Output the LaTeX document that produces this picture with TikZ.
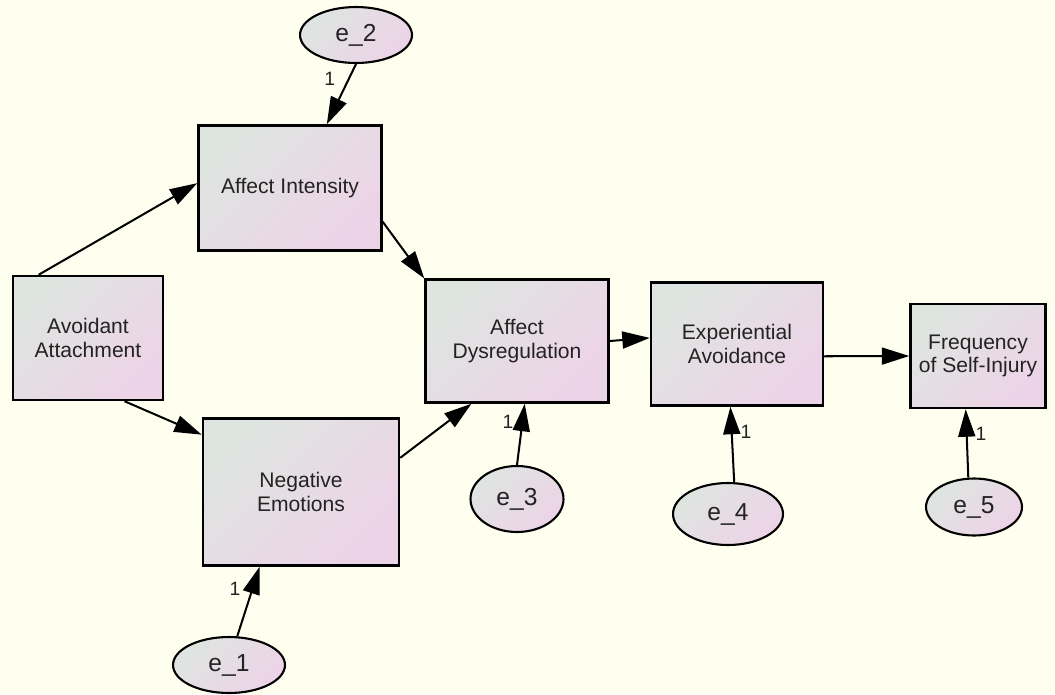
\documentclass[tikz,border=0pt]{standalone}
\usepackage{fontspec}
\setmainfont{Liberation Sans}
\usetikzlibrary{shapes.geometric,arrows.meta}
\definecolor{bgivory}{RGB}{255,255,240}
\definecolor{boxgrey}{RGB}{222,229,224}
\definecolor{boxpink}{RGB}{237,211,232}
\definecolor{txtgrey}{RGB}{35,35,35}
\begin{document}
\begin{tikzpicture}[x=0.02cm,y=-0.02cm,
    obs/.style={draw,rectangle,line width=1.4pt,inner sep=0pt,align=center,left color=boxgrey,right color=boxpink,shading angle=45,text=txtgrey,font=\fontsize{12}{13.5}\selectfont},
    err/.style={draw,ellipse,line width=1.2pt,inner sep=0pt,left color=boxgrey,right color=boxpink,shading angle=45,text=txtgrey,font=\fontsize{14}{16}\selectfont},
    link/.style={-{Triangle[length=0.55cm,width=0.34cm]},line width=1.15pt},
    one/.style={inner sep=0pt,text=txtgrey,font=\fontsize{11}{12}\selectfont}]
    \fill[bgivory] (0,0) rectangle (1055,694);
    \useasboundingbox (0,0) rectangle (1055,694);
    % observed variables
    \node[obs,minimum width=3cm,minimum height=2.48cm] (avoid) at (88,338) {Avoidant\\Attachment};
    \node[obs,minimum width=3.66cm,minimum height=2.5cm] (ai) at (290,188) {Affect Intensity};
    \node[obs,minimum width=3.92cm,minimum height=2.94cm] (neg) at (301,492) {Negative\\Emotions};
    \node[obs,minimum width=3.66cm,minimum height=2.46cm] (ad) at (517,341) {Affect\\Dysregulation};
    \node[obs,minimum width=3.44cm,minimum height=2.46cm] (ea) at (737,344) {Experiential\\Avoidance};
    \node[obs,minimum width=2.7cm,minimum height=2.08cm] (fsi) at (978,356) {Frequency\\of Self-Injury};
    % error terms
    \node[err,minimum width=2.24cm,minimum height=1.12cm] (e2) at (356,35) {e\_2};
    \node[err,minimum width=2.24cm,minimum height=1.12cm] (e1) at (229,665) {e\_1};
    \node[err,minimum width=1.86cm,minimum height=1.32cm] (e3) at (517,499) {e\_3};
    \node[err,minimum width=2.2cm,minimum height=1.24cm] (e4) at (728,514) {e\_4};
    \node[err,minimum width=1.92cm,minimum height=1.14cm] (e5) at (974,507) {e\_5};
    % paths
    \draw[link] (avoid.128) -- (ai.177);
    \draw[link] (avoid.-60) -- (neg.150);
    \draw[link] (ai.-20) -- (ad.146);
    \draw[link] (neg.19) -- (ad.-126);
    \draw[link] (ad.east) -- (ea.176);
    \draw[link] (ea.-8) -- (fsi.west);
    \draw[link] (e2.south) -- node[one,pos=0.25,left=0.25cm] {1} (ai.60);
    \draw[link] (e1.74) -- node[one,pos=0.68,left=0.22cm] {1} (neg.-119);
    \draw[link] (e3.north) -- node[one,pos=0.7,left=0.16cm] {1} (ad.-83);
    \draw[link] (e4.79) -- node[one,pos=0.67,right=0.16cm] {1} (ea.-96);
    \draw[link] (e5.101) -- node[one,pos=0.64,right=0.16cm] {1} (fsi.-103);
\end{tikzpicture}
\end{document}
